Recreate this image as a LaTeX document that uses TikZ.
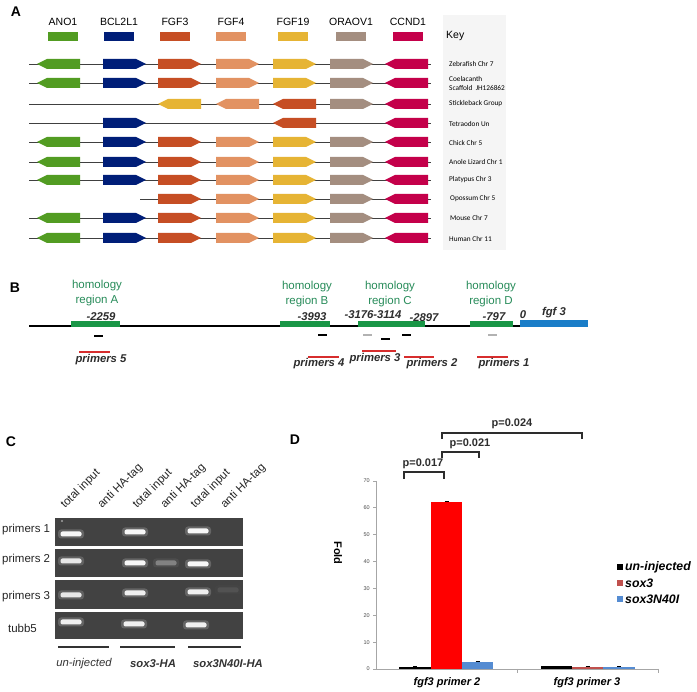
\documentclass[tikz,border=0pt]{standalone}
\usepackage{fontspec}
\setmainfont{Liberation Sans}
\newfontfamily\condfont{Carlito}
\definecolor{cANO}{RGB}{82,156,34}
\definecolor{cBCL}{RGB}{0,30,120}
\definecolor{cFa}{RGB}{198,78,36}
\definecolor{cFb}{RGB}{226,146,98}
\definecolor{cFc}{RGB}{230,180,52}
\definecolor{cORA}{RGB}{164,142,128}
\definecolor{cCCN}{RGB}{196,0,74}
\definecolor{hgreen}{RGB}{25,150,70}
\definecolor{htext}{RGB}{40,140,90}
\definecolor{fgfblue}{RGB}{25,125,200}
\definecolor{pred}{RGB}{215,45,45}
\definecolor{dtext}{RGB}{45,45,45}
\definecolor{gelc}{RGB}{66,66,66}
\definecolor{sred}{RGB}{192,80,77}
\definecolor{sblue}{RGB}{85,140,210}
\newcommand\geneR[3]{\fill[#3] (#1,#2-5) -- ++(33,0) -- ++(10,5) -- ++(-10,5) -- ++(-33,0) -- cycle;}
\newcommand\geneL[3]{\fill[#3] (#1,#2) -- ++(10,-5) -- ++(33,0) -- ++(0,10) -- ++(-33,0) -- cycle;}
\newcommand\fullrow[1]{\draw[chrline] (29,#1) -- (431,#1);
  \geneL{37}{#1}{cANO}\geneR{103}{#1}{cBCL}\geneR{158}{#1}{cFa}\geneR{216}{#1}{cFb}
  \geneR{273}{#1}{cFc}\geneR{330}{#1}{cORA}\geneL{385}{#1}{cCCN}}
\newcommand\gelband[3]{\fill[white,opacity=0.2*#3,rounded corners=3pt] (#1-13,#2-4.5) rectangle (#1+13,#2+4.5);
  \fill[white,opacity=#3,rounded corners=2pt] (#1-10.5,#2-2.5) rectangle (#1+10.5,#2+2.5);}
\begin{document}
\begin{tikzpicture}[x=1pt,y=-1pt,
  chrline/.style={draw=black!75,line width=0.9pt},
  panellab/.style={font=\fontsize{14}{14}\selectfont\bfseries},
  genelab/.style={font=\fontsize{10.5}{11}\selectfont},
  species/.style={font=\condfont\fontsize{7.3}{9}\selectfont,anchor=west,align=left,inner sep=0pt},
  homlab/.style={text=htext,font=\fontsize{11.5}{14.3}\selectfont,align=center,inner sep=0pt},
  numlab/.style={text=dtext,font=\fontsize{11.3}{12}\selectfont\bfseries\itshape,inner sep=0pt},
  primlab/.style={text=dtext,font=\fontsize{11.3}{12}\selectfont\bfseries\itshape,inner sep=0pt},
  rowlab/.style={text=black!85,font=\fontsize{11.5}{12}\selectfont,inner sep=0pt},
  collab/.style={text=black!85,font=\fontsize{11.5}{12}\selectfont,rotate=45,anchor=base west,inner sep=0pt},
  grplab/.style={text=black!80,font=\fontsize{11.3}{12}\selectfont\itshape,inner sep=0pt},
  grpbold/.style={text=black!80,font=\fontsize{11.3}{12}\selectfont\bfseries\itshape,inner sep=0pt},
  pval/.style={text=dtext,font=\fontsize{11}{12}\selectfont\bfseries,inner sep=0pt},
  bracket/.style={draw=dtext,line width=1.4pt},
  ytick/.style={text=black!70,font=\fontsize{5.5}{6}\selectfont,anchor=east,inner sep=0pt},
  leglab/.style={font=\fontsize{12.3}{13}\selectfont\bfseries\itshape,anchor=west,inner sep=0pt},
  catlab/.style={font=\fontsize{11}{12}\selectfont\bfseries\itshape,inner sep=0pt},
  axis/.style={draw=black!35,line width=0.6pt}]
\useasboundingbox (0,0) rectangle (697,692);
\fill[white] (0,0) rectangle (697,692);
% ================= Panel A =================
\node[panellab] (pA) at (16,12) {A};
\fill[black!4] (443,15) rectangle (506,250);
\foreach \nm/\cx/\col in {ANO1/63/cANO,BCL2L1/119/cBCL,FGF3/175/cFa,FGF4/231/cFb,FGF19/293/cFc,ORAOV1/351/cORA,CCND1/408/cCCN}{
  \node[genelab] (k\nm) at (\cx,22) {\nm};
  \fill[\col] (\cx-15,32) rectangle (\cx+15,41);
}
\node[genelab,anchor=west,inner sep=0pt] (key) at (446,36) {Key};
\fullrow{64}
\fullrow{83}
% Stickleback
\draw[chrline] (29,104) -- (431,104);
\geneL{158}{104}{cFc}\geneL{216}{104}{cFb}\geneL{273}{104}{cFa}\geneR{330}{104}{cORA}\geneL{385}{104}{cCCN}
% Tetraodon
\draw[chrline] (29,123) -- (431,123);
\geneR{103}{123}{cBCL}\geneL{273}{123}{cFa}\geneL{385}{123}{cCCN}
\fullrow{142}
\fullrow{162}
\fullrow{180}
% Opossum
\draw[chrline] (140,199) -- (431,199);
\geneR{158}{199}{cFa}\geneR{216}{199}{cFb}\geneR{273}{199}{cFc}\geneR{330}{199}{cORA}\geneL{385}{199}{cCCN}
\fullrow{218}
\fullrow{238}
\node[species] (s1) at (449,64) {Zebrafish Chr 7};
\node[species] (s2) at (449,83.5) {Coelacanth\\Scaffold\ \ JH126862};
\node[species] (s3) at (449,103.5) {Stickleback Group};
\node[species] (s4) at (449,124) {Tetraodon Un};
\node[species] (s5) at (449,142.5) {Chick Chr 5};
\node[species] (s6) at (449,161.5) {Anole Lizard Chr 1};
\node[species] (s7) at (449,180) {Platypus Chr 3};
\node[species] (s8) at (450,199) {Opossum Chr 5};
\node[species] (s9) at (450,218) {Mouse Chr 7};
\node[species] (s10) at (449,238.5) {Human Chr 11};
% ================= Panel B =================
\node[panellab] (pB) at (15,288) {B};
\draw[line width=1.7pt] (29,326) -- (521,326);
\fill[hgreen] (71,321.5) rectangle (120,327.5);
\fill[hgreen] (280,321.5) rectangle (330,327.5);
\fill[hgreen] (358,321.5) rectangle (425,327.5);
\fill[hgreen] (470,321.5) rectangle (513,327.5);
\fill[fgfblue] (520,320) rectangle (588,327.5);
\node[homlab] (hA) at (97,293) {homology\\region A};
\node[homlab] (hB) at (307,294) {homology\\region B};
\node[homlab] (hC) at (390,294) {homology\\region C};
\node[homlab] (hD) at (491,294) {homology\\region D};
\node[numlab] (nA) at (101,316.5) {-2259};
\node[numlab] (nB) at (312,316.5) {-3993};
\node[numlab] (nC) at (373,315) {-3176-3114};
\node[numlab] (nC2) at (424,317.5) {-2897};
\node[numlab] (nD) at (494,316.5) {-797};
\node[numlab] (n0) at (523,315) {0};
\node[numlab] (nfgf) at (554,313) {fgf 3};
\foreach \xa/\ya/\cc in {94/336/black,318/335/black,363/335/black!30,381/339/black,402/335/black,488/335/black!30}{
  \draw[\cc,line width=1.6pt] (\xa,\ya) -- (\xa+9,\ya);
}
\draw[pred,line width=1.8pt] (79,352) -- (110,352);
\draw[pred,line width=1.8pt] (308,357) -- (339,357);
\draw[pred,line width=1.8pt] (362,351) -- (396,351);
\draw[pred,line width=1.8pt] (404,357) -- (434,357);
\draw[pred,line width=1.8pt] (477,357) -- (508,357);
\node[primlab] (p5) at (101,360) {primers 5};
\node[primlab] (p4) at (319,364) {primers 4};
\node[primlab] (p3) at (375,359) {primers 3};
\node[primlab] (p2) at (432,364) {primers 2};
\node[primlab] (p1) at (504,364) {primers 1};
% ================= Panel C =================
\node[panellab] (pC) at (11,442) {C};
\foreach \xs/\tx in {65/total input,102/anti HA-tag,137/total input,165/anti HA-tag,195/total input,225/anti HA-tag}{
  \node[collab] at (\xs,509) {\tx};
}
\foreach \ya/\yb in {518/546,549/577,580/609,612/639}{
  \fill[gelc] (55,\ya) rectangle (243,\yb);
}
\fill[white,opacity=0.5] (62,521) circle (1.2);
\gelband{71}{534}{0.95}\gelband{135}{532}{0.95}\gelband{198}{531}{0.95}
\gelband{71}{561}{0.85}\gelband{135}{563}{0.95}\gelband{166}{563}{0.3}\gelband{198}{564}{0.95}
\gelband{71}{595}{0.85}\gelband{135}{593}{0.9}\gelband{198}{592}{0.9}\gelband{228}{590}{0.08}
\gelband{71}{622}{0.9}\gelband{134}{624}{0.9}\gelband{196}{625}{0.9}
\node[rowlab,anchor=west] (r1) at (2,530) {primers 1};
\node[rowlab,anchor=west] (r2) at (2,560) {primers 2};
\node[rowlab,anchor=west] (r3) at (2,597) {primers 3};
\node[rowlab] (r4) at (22.5,628) {tubb5};
\draw[black!80,line width=1.5pt] (58,647) -- (109,647);
\draw[black!80,line width=1.5pt] (120,647) -- (175,647);
\draw[black!80,line width=1.5pt] (188,647) -- (241,647);
\node[grplab] (g1) at (84,664) {un-injected};
\node[grpbold] (g2) at (153,664) {sox3-HA};
\node[grpbold] (g3) at (228,664) {sox3N40I-HA};
% ================= Panel D =================
\node[panellab] (pD) at (295,440) {D};
\foreach \v in {0,10,...,70}{
  \node[ytick] at (370,669-2.687*\v) {\v};
  \draw[axis] (373,669-2.687*\v) -- (376,669-2.687*\v);
}
\draw[axis] (376,481) -- (376,669);
\node[font=\fontsize{11}{12}\selectfont\bfseries,rotate=-90] (fold) at (338,553) {Fold};
% bars
\fill[black] (399,669-2.4) rectangle (431,669);
\fill[red] (431,502) rectangle (462,669);
\fill[sblue] (462,662) rectangle (493,669);
\fill[black] (541,669-2.5) rectangle (572,669);
\fill[sred] (572,669-2.3) rectangle (603,669);
\fill[sblue] (603,669-2.2) rectangle (635,669);
\foreach \xe/\ye in {415/666.6,446.5/502,477.5/662,556.5/666.5,587.5/666.7,619/666.8}{
  \draw[black,line width=0.7pt] (\xe-2,\ye-0.6) -- (\xe+2,\ye-0.6);
}
\draw[axis] (376,669) -- (658,669);
\draw[axis] (517,669) -- (517,673);
\draw[axis] (658,669) -- (658,673);
\node[catlab] (c1) at (447,683) {fgf3 primer 2};
\node[catlab] (c2) at (587,683) {fgf3 primer 3};
% brackets
\draw[bracket] (404,479) -- (404,472) -- (444,472) -- (444,479);
\draw[bracket] (442,458) -- (442,452) -- (479,452) -- (479,458);
\draw[bracket] (442,439) -- (442,433) -- (582,433) -- (582,439);
\node[pval] (pv1) at (423,464) {p=0.017};
\node[pval] (pv2) at (470,444) {p=0.021};
\node[pval] (pv3) at (512,423.5) {p=0.024};
% legend
\fill[black] (617,564) rectangle (623,570);
\fill[sred] (617,580) rectangle (623,586);
\fill[sblue] (617,596) rectangle (623,602);
\node[leglab] (l1) at (625,567) {un-injected};
\node[leglab] (l2) at (625,583) {sox3};
\node[leglab] (l3) at (625,599) {sox3N40I};
\end{tikzpicture}
\end{document}
